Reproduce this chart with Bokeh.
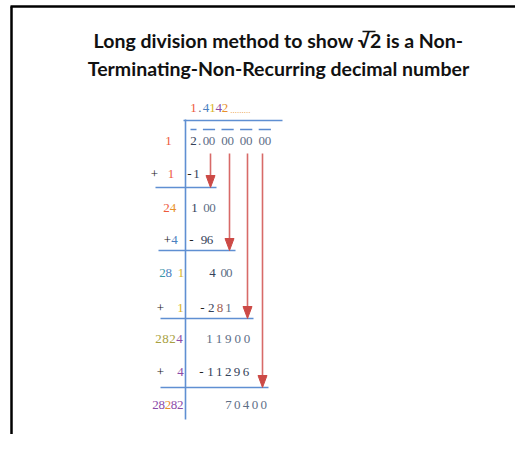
from bokeh.plotting import figure
from bokeh.models import Range1d, ColumnDataSource
from bokeh.core.properties import value
from bokeh.embed import file_html
from bokeh.resources import INLINE

# ---------------- data ----------------
title_lines = ["Long division method to show \u221a2 is a Non-",
               "Terminating-Non-Recurring decimal number"]

quotient = "1.4142"
quotient_tail = "........."

left_rows = ["1", "+  1", "24", "+4", "28 1", "+   1", "2824", "+   4", "28282"]
right_rows = ["2.00 00 00 00", "-1", "1 00", "- 96", "4 00", "-281", "11900", "-11296", "70400"]

RED, ORANGE, YELLOW = "#ee5a3c", "#e8902a", "#d8b428"
BLUE, PURPLE, TEAL, OLIVE = "#4a7fc0", "#8a4aa8", "#3a98a8", "#a8a040"
DARK, GRAY, BLK, BROWN = "#34425a", "#5e6e86", "#222222", "#a06050"

quotient_colors = [RED, GRAY, BLUE, YELLOW, PURPLE, ORANGE]
left_colors = [
    [RED],
    [BLK, None, None, RED],
    [RED, ORANGE],
    [BLK, BLUE],
    [TEAL, BLUE, None, YELLOW],
    [BLK, None, None, None, YELLOW],
    [OLIVE, OLIVE, OLIVE, PURPLE],
    [BLK, None, None, None, PURPLE],
    [PURPLE, PURPLE, ORANGE, PURPLE, PURPLE],
]
right_colors = [
    [DARK, GRAY] + [GRAY] * 11,
    [BLK, DARK],
    [DARK, None, GRAY, GRAY],
    [BLK, None, DARK, DARK],
    [DARK, None, GRAY, GRAY],
    [BLK, DARK, BROWN, GRAY],
    [GRAY] * 5,
    [BLK] + [DARK] * 5,
    [GRAY] * 5,
]

# ---------------- layout ----------------
W, H = 515, 434
OX, OY = 0, 0
row_y = [140, 173, 207, 239, 272, 307, 338, 371, 404]
left_x0 = [168, 154, 166, 167, 162, 160, 158, 160, 155]
left_dx = [6.2, 5.5, 6.4, 7.0, 6.2, 5.0, 7.0, 5.0, 6.2]
right_x0 = [193, 189, 194, 191, 212, 202, 209, 201, 228]
right_dx = [6.2, 7.0, 6.0, 6.2, 5.6, 8.7, 9.4, 8.9, 8.8]
quot_x0, quot_dx, quot_y = 193, 6.3, 107

p = figure(width=W, height=H, output_backend="svg", toolbar_location=None,
           x_range=Range1d(OX, OX + W), y_range=Range1d(OY + H, OY),
           x_axis_type=None, y_axis_type=None, min_border=0,
           outline_line_color=None)
p.grid.visible = False
p.background_fill_color = "white"

# frame
p.segment(x0=[10, 11], y0=[6, 6], x1=[OX + W, 11], y1=[6, OY + H],
          line_color="black", line_width=2.5)

# title
p.text(x=[278, 278], y=[40, 68], text=title_lines, text_align="center",
       text_baseline="middle", text_font=value("Lato"), text_font_style="bold",
       text_font_size="19.5px", text_color="#111111")
# vinculum of the square root
p.segment(x0=[362], y0=[31], x1=[375], y1=[31], line_color="#111111", line_width=1.6)

# digits
xs, ys, ts, cs = [], [], [], []
def add(s, colors, x0, dx, y):
    for i, ch in enumerate(s):
        if ch == " ":
            continue
        xs.append(x0 + i * dx); ys.append(y); ts.append(ch); cs.append(colors[i])

add(quotient, quotient_colors, quot_x0, quot_dx, quot_y)
for k in range(len(row_y)):
    add(left_rows[k], left_colors[k], left_x0[k], left_dx[k], row_y[k])
    add(right_rows[k], right_colors[k], right_x0[k], right_dx[k], row_y[k])

src = ColumnDataSource(dict(x=xs, y=ys, t=ts, c=cs))
p.text(x="x", y="y", text="t", text_color="c", source=src, text_align="center",
       text_baseline="middle", text_font=value("Liberation Serif"),
       text_font_size="13px")
p.text(x=[quot_x0 + len(quotient) * quot_dx - 1], y=[quot_y + 2], text=[quotient_tail],
       text_color=ORANGE, text_align="left", text_baseline="middle",
       text_font=value("Liberation Serif"), text_font_size="9px")

# overlines above digit groups of the dividend
groups = [(0, 0), (2, 3), (5, 6), (8, 9), (11, 12)]
ox0 = [right_x0[0] + a * right_dx[0] - 3 for a, b in groups]
ox1 = [right_x0[0] + b * right_dx[0] + 3 for a, b in groups]
p.segment(x0=ox0, y0=[129] * 5, x1=ox1, y1=[129] * 5, line_color="#5a8ad0", line_width=1.5)

LINE = "#5f8fd2"
# division bracket
p.segment(x0=[183, 185], y0=[120, 119], x1=[282, 185], y1=[120, 419],
          line_color=LINE, line_width=1.6)
# subtraction lines
sub_y = [187, 250, 318, 387]
sub_x0 = [155, 158, 160, 160]
arrow_x = [210, 229, 247, 262]
p.segment(x0=sub_x0, y0=sub_y, x1=[ax + 6 for ax in arrow_x], y1=sub_y,
          line_color=LINE, line_width=1.6)
# arrows
AR = "#cc4a46"
p.segment(x0=arrow_x, y0=[153] * 4, x1=arrow_x, y1=[sy - 10 for sy in sub_y],
          line_color="#d86a68", line_width=1.6)
p.patches(xs=[[ax - 4.5, ax + 4.5, ax] for ax in arrow_x],
          ys=[[sy - 12, sy - 12, sy] for sy in sub_y],
          fill_color=AR, line_color=AR, line_width=1)

open("out.html", "w").write(file_html(p, INLINE))
